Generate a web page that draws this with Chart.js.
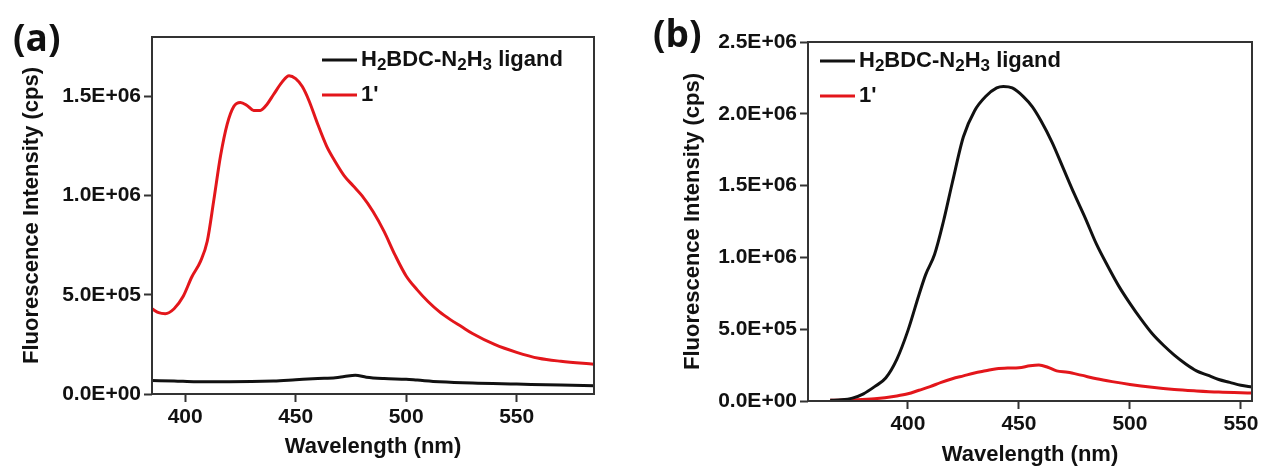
<!DOCTYPE html>
<html>
<head>
<meta charset="utf-8">
<script src="https://cdn.jsdelivr.net/npm/chart.js@4/dist/chart.umd.min.js"></script>
<style>
  html, body { margin: 0; padding: 0; background: #fff; overflow: hidden; }
  body { width: 1262px; height: 467px; position: relative; }
  canvas { position: absolute; top: 0; }
  #chart-a { left: 0; }
  #chart-b { left: 620px; }
  .panel { position: absolute; font-family: "Open Sans", sans-serif; font-weight: bold; font-size: 37px; line-height: 40px; color: #111; }
</style>
</head>
<body>
<canvas id="chart-a" width="620" height="467"></canvas>
<canvas id="chart-b" width="642" height="475"></canvas>
<div class="panel" style="left:13px; top:17px;">(a)</div>
<div class="panel" style="left:653px; top:13px;">(b)</div>
<script>
// panel (a)
const wlRedA = [385, 388, 391, 395, 399, 403, 407, 410, 413, 416, 419, 422, 425, 428, 431, 434, 437, 440, 444, 447, 450, 453, 456, 460,
    464, 468, 472, 476, 480, 485, 490, 495, 500, 505, 510, 515, 520, 525, 530, 540, 550, 560, 570, 585];
const redA = [0.43, 0.41, 0.405, 0.43, 0.49, 0.59, 0.67, 0.77, 0.98, 1.20, 1.36, 1.45, 1.47, 1.455, 1.43, 1.43, 1.46, 1.51, 1.575, 1.605, 1.59, 1.55, 1.48, 1.36,
    1.25, 1.17, 1.10, 1.05, 1.00, 0.92, 0.82, 0.70, 0.595, 0.525, 0.465, 0.415, 0.375, 0.34, 0.305, 0.25, 0.21, 0.18, 0.165, 0.15];
const wlBlackA = [385, 395, 405, 420, 440, 450, 460, 468, 472, 477, 482, 490, 500, 505, 515, 530, 550, 570, 585];
const blackA = [0.068, 0.066, 0.062, 0.062, 0.066, 0.072, 0.078, 0.082, 0.088, 0.095, 0.085, 0.078, 0.074, 0.07, 0.062, 0.055, 0.05, 0.045, 0.042];

// panel (b)
const wlBlackB = [365, 370, 375, 380, 385, 390, 395, 400, 405, 408, 412, 416, 420, 425, 430, 435, 440, 443, 447, 452, 456, 460,
    465, 470, 475, 480, 485, 490, 495, 500, 505, 510, 515, 520, 525, 530, 535, 540, 545, 550, 555];
const blackB = [0.005, 0.008, 0.02, 0.05, 0.1, 0.16, 0.29, 0.49, 0.74, 0.88, 1.02, 1.25, 1.52, 1.84, 2.02, 2.12, 2.18, 2.19, 2.18, 2.12, 2.05, 1.95,
    1.80, 1.62, 1.44, 1.27, 1.09, 0.94, 0.80, 0.68, 0.57, 0.47, 0.39, 0.32, 0.26, 0.21, 0.18, 0.15, 0.13, 0.11, 0.097];
const wlRedB = [365, 375, 385, 395, 400, 405, 410, 415, 420, 425, 430, 435, 440, 445, 450, 455, 459, 463, 467, 472, 478, 485,
    492, 500, 510, 520, 530, 540, 555];
const redB = [0.005, 0.008, 0.015, 0.035, 0.05, 0.075, 0.1, 0.13, 0.155, 0.175, 0.195, 0.21, 0.225, 0.23, 0.232, 0.245, 0.25, 0.235, 0.21, 0.2, 0.18, 0.155,
    0.135, 0.115, 0.095, 0.08, 0.07, 0.062, 0.055];

const xTicks = [400, 450, 500, 550];
const yTicksA = [0, 0.5e6, 1.0e6, 1.5e6];
const yTicksB = [0, 0.5e6, 1.0e6, 1.5e6, 2.0e6, 2.5e6];

const seriesNames = ['H2BDC-N2H3 ligand', "1'"];
const RED = '#e3161b';
const BLACK = '#111111';
const AXIS = '#333333';

function pts(xs, ys) {
    return xs.map((x, i) => ({ x: x, y: ys[i] * 1e6 }));
}

function sci(v) {
    if (v === 0) return '0.0E+00';
    const e = Math.floor(Math.log10(v) + 1e-9);
    const m = v / Math.pow(10, e);
    return m.toFixed(1) + 'E+' + String(e).padStart(2, '0');
}

// box around the plot area
const frame = {
    id: 'frame',
    afterDatasetsDraw(chart) {
        const a = chart.chartArea, c = chart.ctx;
        c.save();
        c.strokeStyle = AXIS;
        c.lineWidth = 2;
        c.strokeRect(a.left, a.top, a.right - a.left, a.bottom - a.top);
        c.restore();
    }
};

// legend with subscripts
function drawRich(c, parts, x, y) {
    parts.forEach(p => {
        c.font = p.sub ? 'bold 17px "Liberation Sans", Arial, sans-serif' : 'bold 22px "Liberation Sans", Arial, sans-serif';
        c.fillText(p.t, x, y + (p.sub ? 5 : 0));
        x += c.measureText(p.t).width;
    });
}
const legendBox = {
    id: 'legendBox',
    afterDraw(chart, args, opts) {
        const a = chart.chartArea, c = chart.ctx;
        const x0 = a.left + opts.dx, y0 = a.top + opts.dy;
        const colors = [BLACK, RED];
        const rows = [
            [{ t: 'H' }, { t: '2', sub: true }, { t: 'BDC-N' }, { t: '2', sub: true }, { t: 'H' }, { t: '3', sub: true }, { t: ' ligand' }],
            [{ t: seriesNames[1] }]
        ];
        c.save();
        c.textBaseline = 'middle';
        c.fillStyle = '#111';
        rows.forEach((r, i) => {
            const y = y0 + i * 35;
            c.strokeStyle = colors[i];
            c.lineWidth = 3;
            c.beginPath();
            c.moveTo(x0, y);
            c.lineTo(x0 + 35, y);
            c.stroke();
            drawRich(c, r, x0 + 39, y);
        });
        c.restore();
    }
};

function makeChart(id, cfg) {
    const tickFont = { family: '"Liberation Sans", Arial, sans-serif', size: 21, weight: 'bold' };
    const titleFont = { family: '"Liberation Sans", Arial, sans-serif', size: 22, weight: 'bold' };
    return new Chart(document.getElementById(id).getContext('2d'), {
        type: 'line',
        data: {
            datasets: [{
                label: seriesNames[0],
                data: cfg.black,
                borderColor: BLACK,
                borderWidth: 3,
                pointRadius: 0,
                cubicInterpolationMode: 'monotone'
            }, {
                label: seriesNames[1],
                data: cfg.red,
                borderColor: RED,
                borderWidth: 3,
                pointRadius: 0,
                cubicInterpolationMode: 'monotone'
            }]
        },
        options: {
            responsive: false,
            animation: false,
            layout: { padding: cfg.padding },
            plugins: {
                legend: { display: false },
                tooltip: { enabled: false },
                legendBox: cfg.legend
            },
            scales: {
                x: {
                    type: 'linear',
                    min: cfg.xmin,
                    max: cfg.xmax,
                    afterBuildTicks: s => { s.ticks = xTicks.map(v => ({ value: v })); },
                    afterFit: s => { s.height = cfg.xh; },
                    border: { display: false },
                    grid: { drawOnChartArea: false, tickLength: 8, tickColor: AXIS, tickWidth: 2 },
                    ticks: { color: '#111', font: tickFont, padding: 3, maxRotation: 0 },
                    title: { display: true, text: 'Wavelength (nm)', color: '#111', font: titleFont, padding: 4 }
                },
                y: {
                    min: 0,
                    max: cfg.ymax,
                    afterBuildTicks: s => { s.ticks = cfg.yTicks.map(v => ({ value: v })); },
                    afterFit: s => { s.width = cfg.yw; },
                    border: { display: false },
                    grid: { drawOnChartArea: false, tickLength: 8, tickColor: AXIS, tickWidth: 2 },
                    ticks: { color: '#111', font: tickFont, padding: 3, callback: v => sci(v) },
                    title: { display: true, text: 'Fluorescence Intensity (cps)', color: '#111', font: titleFont, padding: 4 }
                }
            }
        },
        plugins: [frame, legendBox]
    });
}

makeChart('chart-a', {
    black: pts(wlBlackA, blackA),
    red: pts(wlRedA, redA),
    xmin: 385, xmax: 585, ymax: 1.8e6,
    yTicks: yTicksA,
    padding: { left: 15, top: 37, right: 26, bottom: 3 },
    yw: 137, xh: 70,
    legend: { dx: 170, dy: 23 }
});

makeChart('chart-b', {
    black: pts(wlBlackB, blackB),
    red: pts(wlRedB, redB),
    xmin: 355, xmax: 555, ymax: 2.5e6,
    yTicks: yTicksB,
    padding: { left: 56, top: 42, right: 10, bottom: 3 },
    yw: 132, xh: 71,
    legend: { dx: 12, dy: 19 }
});
</script>
</body>
</html>
